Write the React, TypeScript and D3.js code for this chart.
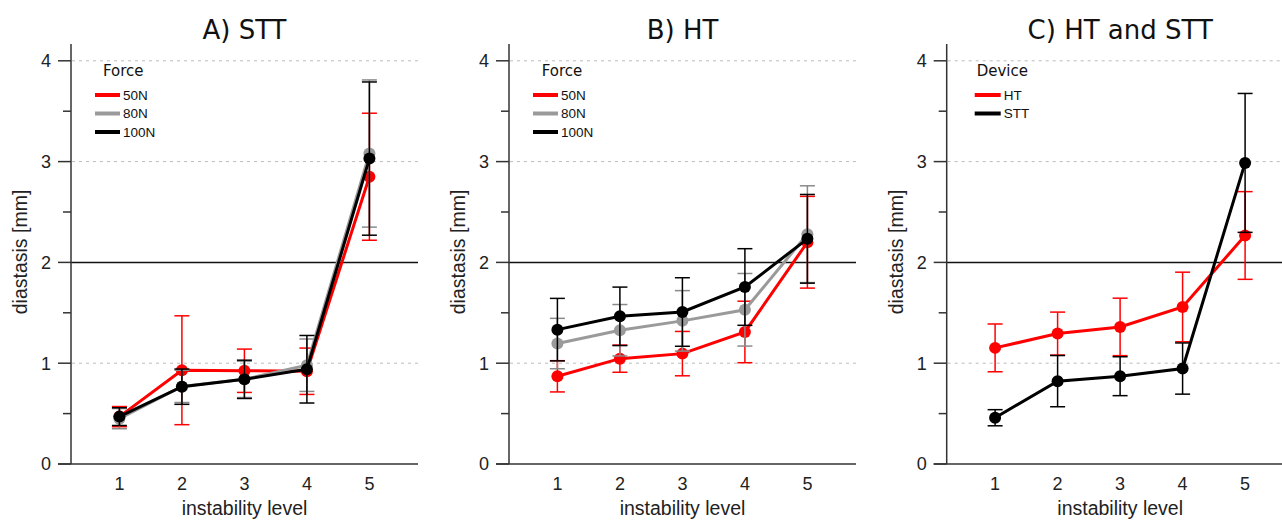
import React from "react";
import * as d3 from "d3";

const levels = [1, 2, 3, 4, 5];
const yTicks = [0, 1, 2, 3, 4];
const yMinor = [0.5, 1.5, 2.5, 3.5];
const gridLevels = [1, 3, 4];

const titles = ["A) STT", "B) HT", "C) HT and STT"];
const legendTitles = ["Force", "Force", "Device"];

// Panel A: STT
const sttMean50 = [0.47, 0.93, 0.925, 0.92, 2.85];
const sttSd50 = [0.1, 0.54, 0.215, 0.23, 0.63];
const sttMean80 = [0.45, 0.77, 0.84, 0.98, 3.08];
const sttSd80 = [0.1, 0.16, 0.18, 0.26, 0.73];
const sttMean100 = [0.47, 0.767, 0.84, 0.94, 3.03];
const sttSd100 = [0.088, 0.175, 0.19, 0.335, 0.76];

// Panel B: HT
const htMean50 = [0.87, 1.045, 1.095, 1.31, 2.2];
const htSd50 = [0.155, 0.135, 0.22, 0.305, 0.455];
const htMean80 = [1.195, 1.327, 1.42, 1.53, 2.28];
const htSd80 = [0.25, 0.255, 0.3, 0.36, 0.48];
const htMean100 = [1.333, 1.465, 1.508, 1.756, 2.234];
const htSd100 = [0.31, 0.29, 0.34, 0.38, 0.44];

// Panel C: device comparison
const devMeanHT = [1.152, 1.294, 1.36, 1.558, 2.267];
const devSdHT = [0.237, 0.213, 0.285, 0.345, 0.435];
const devMeanSTT = [0.459, 0.822, 0.871, 0.947, 2.987];
const devSdSTT = [0.08, 0.254, 0.193, 0.254, 0.689];

const RED = "#ff0000";
const GRAY = "#9a9a9a";
const BLACK = "#000000";

type Series = { name: string; color: string; barColor: string; mean: number[]; sd: number[] };

const panels: { series: Series[]; legendX: number[] }[] = [
  {
    series: [
      { name: "50N", color: RED, barColor: RED, mean: sttMean50, sd: sttSd50 },
      { name: "80N", color: GRAY, barColor: "#8a8a8a", mean: sttMean80, sd: sttSd80 },
      { name: "100N", color: BLACK, barColor: BLACK, mean: sttMean100, sd: sttSd100 },
    ],
    legendX: [32, 24, 49, 52],
  },
  {
    series: [
      { name: "50N", color: RED, barColor: RED, mean: htMean50, sd: htSd50 },
      { name: "80N", color: GRAY, barColor: "#8a8a8a", mean: htMean80, sd: htSd80 },
      { name: "100N", color: BLACK, barColor: BLACK, mean: htMean100, sd: htSd100 },
    ],
    legendX: [32.7, 24, 49, 52],
  },
  {
    series: [
      { name: "HT", color: RED, barColor: RED, mean: devMeanHT, sd: devSdHT },
      { name: "STT", color: BLACK, barColor: BLACK, mean: devMeanSTT, sd: devSdSTT },
    ],
    legendX: [30, 28, 54, 57],
  },
];

const axisXs = [71, 509, 946.7];
const yScale = d3.scaleLinear().domain([0, 4]).range([464, 60.8]);
const AX_COLOR = "#333";
const SANS = "'Liberation Sans', Arial, sans-serif";
const DV = "'DejaVu Sans', Verdana, sans-serif";

function Panel({ idx }: { idx: number }) {
  const ax = axisXs[idx];
  const p = panels[idx];
  const x = d3.scaleLinear().domain([1, 5]).range([ax + 48.4, ax + 298.4]);
  const xEnd = ax + 347;
  const y0 = yScale(0);
  const line = d3
    .line<number>()
    .x((_, i) => x(levels[i]))
    .y((d) => yScale(d));
  const [lt, l1, l2, lx] = p.legendX;
  return (
    <g>
      <text x={ax + 173.5} y={39} textAnchor="middle" fontFamily={DV} fontSize={26} fill="#111">
        {titles[idx]}
      </text>
      {gridLevels.map((g) => (
        <line key={g} x1={ax + 1} x2={xEnd} y1={yScale(g)} y2={yScale(g)} stroke="#bbb" strokeWidth={1} strokeDasharray="3,4" />
      ))}
      <line x1={ax} x2={xEnd} y1={yScale(2)} y2={yScale(2)} stroke="#111" strokeWidth={1.5} />
      {/* axes */}
      <line x1={ax} x2={ax} y1={44} y2={y0} stroke={AX_COLOR} strokeWidth={1.5} />
      <line x1={ax - 13} x2={xEnd} y1={y0} y2={y0} stroke={AX_COLOR} strokeWidth={1.5} />
      {yTicks.map((t) => (
        <g key={t}>
          <line x1={ax - 13} x2={ax} y1={yScale(t)} y2={yScale(t)} stroke={AX_COLOR} strokeWidth={1.5} />
          <text x={ax - 20} y={yScale(t)} dy="0.36em" textAnchor="end" fontFamily={SANS} fontSize={18} fill="#222">
            {t}
          </text>
        </g>
      ))}
      {yMinor.map((t) => (
        <line key={t} x1={ax - 8} x2={ax} y1={yScale(t)} y2={yScale(t)} stroke={AX_COLOR} strokeWidth={1.5} />
      ))}
      {levels.map((l) => (
        <text key={l} x={x(l)} y={490} textAnchor="middle" fontFamily={SANS} fontSize={18} fill="#222">
          {l}
        </text>
      ))}
      <text x={ax + 173.5} y={515} textAnchor="middle" fontFamily={SANS} fontSize={19.5} fill="#222">
        instability level
      </text>
      <text
        transform={`translate(${ax - 44},${252}) rotate(-90)`}
        textAnchor="middle"
        fontFamily={SANS}
        fontSize={19.5}
        fill="#222"
      >
        diastasis [mm]
      </text>
      {/* legend */}
      <text x={ax + lt} y={76} fontFamily={DV} fontSize={15} fill="#111">
        {legendTitles[idx]}
      </text>
      {p.series.map((s, i) => (
        <g key={s.name}>
          <line x1={ax + l1} x2={ax + l2} y1={95 + i * 18.5} y2={95 + i * 18.5} stroke={s.color} strokeWidth={4} />
          <text x={ax + lx} y={95 + i * 18.5} dy="0.36em" fontFamily={SANS} fontSize={13.5} fill="#111">
            {s.name}
          </text>
        </g>
      ))}
      {/* data */}
      {p.series.map((s) => (
        <g key={s.name}>
          {s.mean.map((m, i) => {
            const cx = x(levels[i]);
            const hi = yScale(m + s.sd[i]);
            const lo = yScale(m - s.sd[i]);
            return (
              <g key={i} stroke={s.barColor} strokeWidth={1.5}>
                <line x1={cx} x2={cx} y1={hi} y2={lo} />
                <line x1={cx - 7.5} x2={cx + 7.5} y1={hi} y2={hi} />
                <line x1={cx - 7.5} x2={cx + 7.5} y1={lo} y2={lo} />
              </g>
            );
          })}
          <path d={line(s.mean) || ""} fill="none" stroke={s.color} strokeWidth={3} />
          {s.mean.map((m, i) => (
            <circle key={i} cx={x(levels[i])} cy={yScale(m)} r={6} fill={s.color} />
          ))}
        </g>
      ))}
    </g>
  );
}

export default function App() {
  return (
    <svg
      width={1282}
      height={521}
      style={{ position: "absolute", left: 0, top: 0, background: "#fff" }}
    >
      <rect width={1282} height={521} fill="#fff" />
      {[0, 1, 2].map((i) => (
        <Panel key={i} idx={i} />
      ))}
    </svg>
  );
}
